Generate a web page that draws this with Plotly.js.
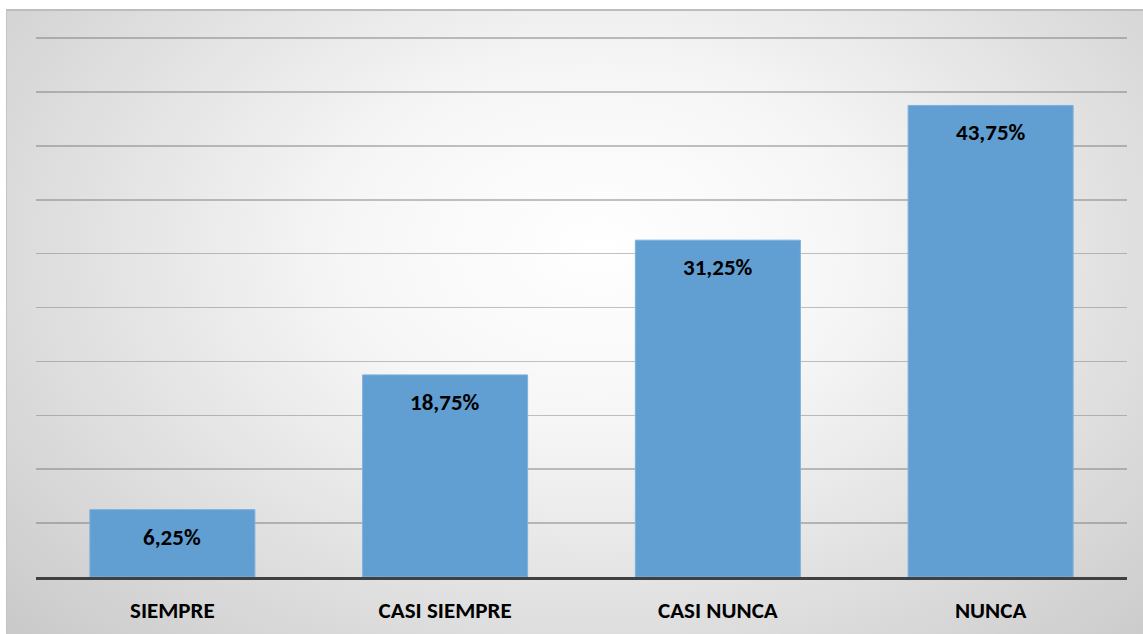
<!DOCTYPE html>
<html>
<head>
<meta charset="utf-8">
<script src="https://cdn.plot.ly/plotly-3.0.1.min.js"></script>
<style>
  html, body { margin: 0; padding: 0; background: #ffffff; width: 1143px; height: 634px; overflow: hidden; }
  #bg {
    position: absolute; left: 6px; top: 9px; width: 1137px; height: 625px;
    background: radial-gradient(ellipse 75% 95% at 52% 38%, #ffffff 0%, #f6f6f6 30%, #dedede 65%, #c6c6c6 100%);
    border-top: 2px solid #bdbdbd; border-left: 1px solid #c4c4c4; box-sizing: border-box;
  }
  #chart { position: absolute; left: 0; top: 0; width: 1143px; height: 634px; }
</style>
</head>
<body>
<div id="bg"></div>
<div id="chart"></div>
<script>
const categories = ["SIEMPRE", "CASI SIEMPRE", "CASI NUNCA", "NUNCA"];
const values = [6.25, 18.75, 31.25, 43.75];
const valueLabels = ["6,25%", "18,75%", "31,25%", "43,75%"];

const font = "Calibri, Carlito, Lato, 'Open Sans', sans-serif";

const trace = {
  type: "bar",
  x: categories,
  y: values,
  width: 0.605,
  marker: { color: "#619ed2", line: { color: "#7eb0dc", width: 1 } },
  hoverinfo: "none"
};

const annotations = categories.map((c, i) => ({
  x: c, y: values[i], xref: "x", yref: "y",
  text: "<b>" + valueLabels[i] + "</b>",
  showarrow: false, yanchor: "middle", yshift: -27,
  font: { family: font, size: 23, color: "#000000" }
}));

const layout = {
  width: 1143, height: 634,
  margin: { l: 36, r: 16, t: 37, b: 57, pad: 0 },
  paper_bgcolor: "rgba(0,0,0,0)",
  plot_bgcolor: "rgba(0,0,0,0)",
  showlegend: false,
  bargap: 0.395,
  xaxis: {
    type: "category",
    showline: true, linecolor: "#404040", linewidth: 3,
    showgrid: false, zeroline: false,
    ticks: "", ticklabelstandoff: 10,
    tickfont: { family: font, size: 23, color: "#000000", weight: "bold" }
  },
  yaxis: {
    range: [0, 50.1], dtick: 5, tick0: 0,
    showticklabels: false, ticks: "",
    showgrid: true, gridcolor: "rgba(110,110,110,0.42)", gridwidth: 1.5,
    zeroline: false, showline: false
  },
  annotations: annotations
};

Plotly.newPlot("chart", [trace], layout, { displayModeBar: false, staticPlot: true });
</script>
</body>
</html>
